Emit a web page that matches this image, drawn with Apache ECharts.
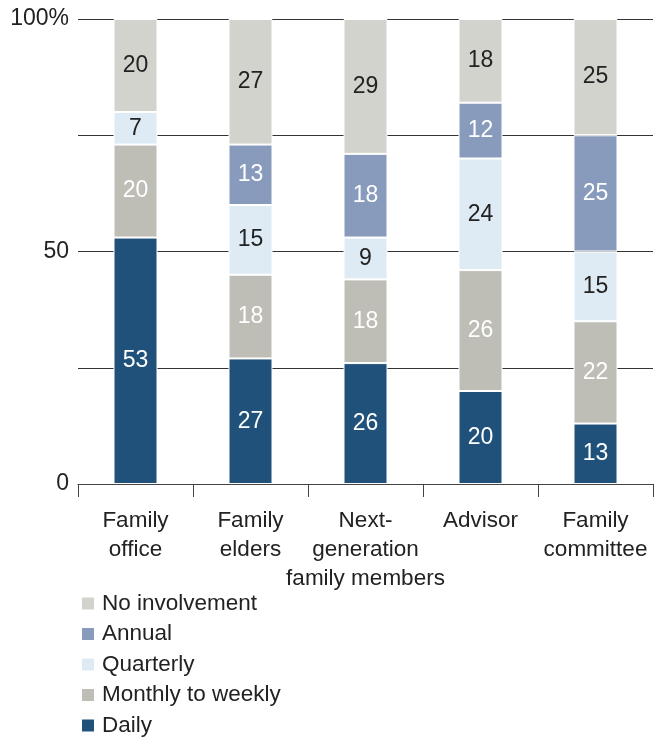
<!DOCTYPE html>
<html>
<head>
<meta charset="utf-8">
<script src="https://cdn.jsdelivr.net/npm/echarts@6/dist/echarts.min.js"></script>
<style>
  html, body { margin: 0; padding: 0; background: #fff; }
  #chart { width: 661px; height: 737px; }
</style>
</head>
<body>
<div id="chart"></div>
<script>
// Share of families (%) by frequency of involvement, per party
const categories = ['Family\noffice', 'Family\nelders', 'Next-\ngeneration\nfamily members', 'Advisor', 'Family\ncommittee'];
const daily = [53, 27, 26, 20, 13];
const monthlyToWeekly = [20, 18, 18, 26, 22];
const quarterly = [7, 15, 9, 24, 15];
const annual = [0, 13, 18, 12, 25];
const noInvolvement = [20, 27, 29, 18, 25];
const yTickLabels = { 0: '0', 50: '50', 100: '100%' };

const FONT = '"Liberation Sans", Arial, sans-serif';

function makeSeries(name, data, color, labelColor) {
  return {
    name: name,
    type: 'bar',
    stack: 'total',
    barWidth: 44,
    data: data,
    itemStyle: { color: color, borderColor: '#fff', borderWidth: 1 },
    label: {
      show: true,
      position: 'inside',
      color: labelColor,
      fontFamily: FONT,
      fontSize: 23,
      formatter: p => (p.value ? String(p.value) : '')
    },
    emphasis: { disabled: true }
  };
}

const chart = echarts.init(document.getElementById('chart'), null, { renderer: 'canvas' });
chart.setOption({
  animation: false,
  backgroundColor: '#fff',
  grid: { left: 78, right: 8, top: 19, bottom: 253, containLabel: false },
  legend: {
    orient: 'vertical',
    left: 80,
    top: 592,
    height: 150,
    padding: 0,
    itemWidth: 14,
    itemHeight: 14,
    itemGap: 7.5,
    icon: 'rect',
    data: ['No involvement', 'Annual', 'Quarterly', 'Monthly to weekly', 'Daily'],
    textStyle: { fontFamily: FONT, fontSize: 22.5, lineHeight: 23, color: '#222', padding: [0, 0, 0, 2] }
  },
  xAxis: {
    type: 'category',
    data: categories,
    boundaryGap: true,
    axisLine: { lineStyle: { color: '#444', width: 1 } },
    axisTick: { show: true, length: 13, lineStyle: { color: '#444' } },
    axisLabel: {
      color: '#222',
      fontFamily: FONT,
      fontSize: 22.5,
      lineHeight: 29,
      margin: 22,
      interval: 0
    }
  },
  yAxis: {
    type: 'value',
    min: 0,
    max: 100,
    interval: 25,
    axisLine: { show: false },
    axisTick: { show: false },
    splitLine: { lineStyle: { color: '#333', width: 1 } },
    axisLabel: {
      color: '#222',
      fontFamily: FONT,
      fontSize: 23,
      margin: 9,
      formatter: v => (v in yTickLabels ? yTickLabels[v] : '')
    }
  },
  series: [
    makeSeries('Daily', daily, '#20517a', '#fff'),
    makeSeries('Monthly to weekly', monthlyToWeekly, '#bebeb6', '#fff'),
    makeSeries('Quarterly', quarterly, '#deebf4', '#222'),
    makeSeries('Annual', annual, '#889bbd', '#fff'),
    makeSeries('No involvement', noInvolvement, '#d2d3cd', '#222')
  ]
});
</script>
</body>
</html>
